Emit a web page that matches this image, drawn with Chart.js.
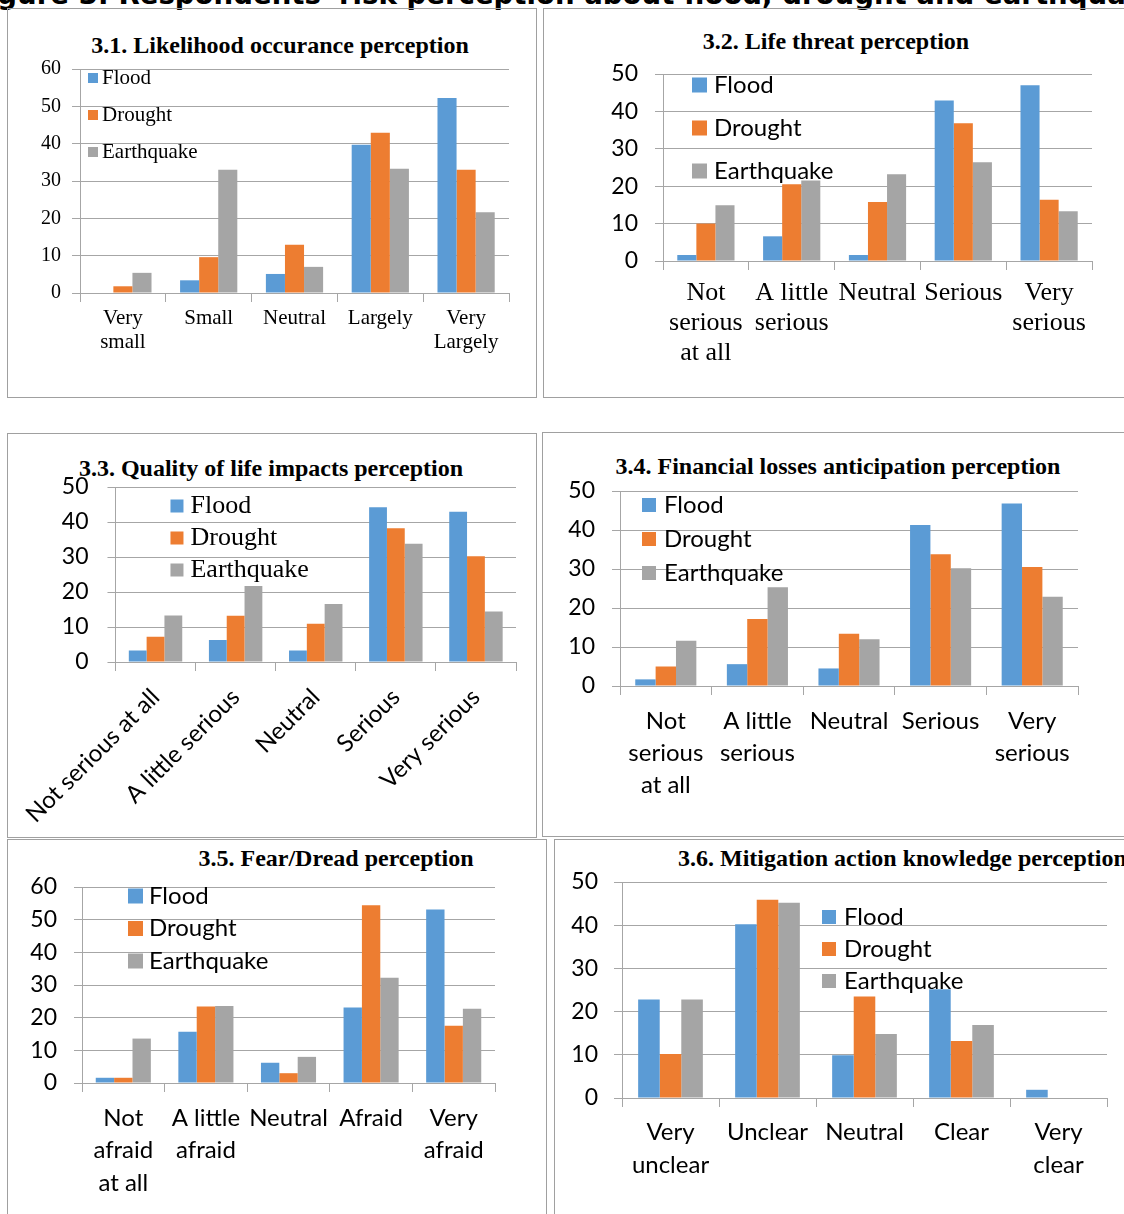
<!DOCTYPE html>
<html>
<head>
<meta charset="utf-8">
<title>Figure 3</title>
<script src="https://cdn.jsdelivr.net/npm/chart.js@4.4.1/dist/chart.umd.min.js"></script>
<style>
  html, body { margin: 0; padding: 0; background: #fff; }
  #page { position: relative; width: 1124px; height: 1214px; overflow: hidden; }
  .frame { position: absolute; border: 1px solid #a0a0a0; box-sizing: border-box; }
  .title { position: absolute; white-space: nowrap; font: bold 24px "Liberation Serif", serif; line-height: 24px; color: #000; }
  #fig { position: absolute; left: -31px; top: -20px; white-space: nowrap; font: bold 27.6px "DejaVu Sans", sans-serif; line-height: 30px; color: #000; }
  canvas { position: absolute; }
</style>
</head>
<body>
<div id="page">
  <div id="fig">Figure 3: Respondents' risk perception about flood, drought and earthquake</div>
</div>
<script>
const series = ["Flood", "Drought", "Earthquake"];

// 3.1
const likelihoodCats = [["Very", "small"], "Small", "Neutral", "Largely", ["Very", "Largely"]];
const likelihoodFlood = [0, 3.4, 5.1, 39.7, 52.2];
const likelihoodDrought = [1.8, 9.6, 12.9, 42.9, 33.0];
const likelihoodQuake = [5.4, 33.0, 7.0, 33.3, 21.6];

// 3.2
const lifeCats = [["Not", "serious", "at all"], ["A little", "serious"], "Neutral", "Serious", ["Very", "serious"]];
const lifeFlood = [1.6, 6.6, 1.6, 42.9, 47.0];
const lifeDrought = [10.0, 20.5, 15.8, 36.8, 16.4];
const lifeQuake = [14.9, 21.5, 23.2, 26.4, 13.3];

// 3.3
const qolCats = ["Not serious at all", "A little serious", "Neutral", "Serious", "Very serious"];
const qolFlood = [3.3, 6.3, 3.3, 44.2, 42.9];
const qolDrought = [7.2, 13.2, 10.9, 38.2, 30.2];
const qolQuake = [13.3, 21.7, 16.6, 33.8, 14.4];

// 3.4
const finCats = [["Not", "serious", "at all"], ["A little", "serious"], "Neutral", "Serious", ["Very", "serious"]];
const finFlood = [1.7, 5.6, 4.5, 41.3, 46.8];
const finDrought = [5.0, 17.2, 13.4, 33.8, 30.5];
const finQuake = [11.6, 25.3, 12.0, 30.2, 22.9];

// 3.5
const fearCats = [["Not", "afraid", "at all"], ["A little", "afraid"], "Neutral", "Afraid", ["Very", "afraid"]];
const fearFlood = [1.6, 15.7, 6.2, 23.1, 53.1];
const fearDrought = [1.6, 23.4, 3.0, 54.4, 17.5];
const fearQuake = [13.6, 23.6, 8.0, 32.2, 22.7];

// 3.6
const mitCats = [["Very", "unclear"], "Unclear", "Neutral", "Clear", ["Very", "clear"]];
const mitFlood = [22.8, 40.2, 9.9, 25.2, 1.9];
const mitDrought = [10.2, 45.9, 23.5, 13.2, 0];
const mitQuake = [22.8, 45.2, 14.8, 16.9, 0];

const colors = ["#5B9BD5", "#ED7D31", "#A5A5A5"];
const gridColor = "#a6a6a6";
const serif = "'Liberation Serif', 'Times New Roman', serif";
const sans = "Lato, 'Open Sans', sans-serif";

Chart.defaults.color = "#000";

// legend drawn inside the plot area, like the Excel original
const insideLegend = {
  id: "insideLegend",
  afterDraw(chart, args, opts) {
    const { ctx, chartArea } = chart;
    ctx.save();
    ctx.font = opts.font;
    ctx.textBaseline = "middle";
    chart.data.datasets.forEach((ds, i) => {
      const x = chartArea.left + opts.x;
      const y = chartArea.top + opts.y + i * opts.gap;
      ctx.fillStyle = ds.backgroundColor;
      ctx.fillRect(x, y - opts.box / 2, opts.box, opts.box);
      ctx.fillStyle = "#000";
      ctx.fillText(ds.label, x + opts.textX, y);
    });
    ctx.restore();
  }
};

const page = document.getElementById("page");

function addFrame(l, t, r, b) {
  const d = document.createElement("div");
  d.className = "frame";
  d.style.left = l + "px";
  d.style.top = t + "px";
  d.style.width = (r - l) + "px";
  d.style.height = (b - t) + "px";
  page.appendChild(d);
}

function addTitle(text, x, cy, centered) {
  const d = document.createElement("div");
  d.className = "title";
  d.textContent = text;
  d.style.left = x + "px";
  d.style.top = (cy - 12) + "px";
  if (centered) d.style.transform = "translateX(-50%)";
  page.appendChild(d);
}

function makeChart(p) {
  // room above the plot so the top tick label never pushes the plot down
  const padT = 40, padR = p.padR || 20;
  const canvas = document.createElement("canvas");
  const w = p.plot.r - p.plot.l + p.yW + padR;
  const h = p.plot.b - p.plot.t + padT + p.xH;
  canvas.width = w;
  canvas.height = h;
  canvas.style.left = (p.plot.l - p.yW) + "px";
  canvas.style.top = (p.plot.t - padT) + "px";
  canvas.style.width = w + "px";
  canvas.style.height = h + "px";
  page.appendChild(canvas);

  return new Chart(canvas, {
    type: "bar",
    data: {
      labels: p.labels,
      datasets: p.values.map((vals, i) => ({
        label: series[i],
        data: vals,
        backgroundColor: colors[i],
        borderWidth: 0,
        categoryPercentage: 0.667,
        barPercentage: 1.0
      }))
    },
    options: {
      responsive: false,
      animation: false,
      layout: { padding: { top: padT, right: padR, left: 0, bottom: 0 } },
      scales: {
        x: {
          grid: { drawOnChartArea: false, color: gridColor, tickLength: 9, offset: true },
          border: { color: gridColor },
          ticks: {
            autoSkip: false,
            minRotation: p.rot || 0,
            maxRotation: p.rot || 0,
            padding: p.xPad,
            font: p.xFont
          },
          afterFit: (s) => { s.height = p.xH; }
        },
        y: {
          min: 0,
          max: p.max,
          grid: { color: gridColor, tickLength: 8 },
          border: { color: gridColor },
          ticks: { stepSize: 10, padding: p.yPad, font: p.yFont },
          afterFit: (s) => { s.width = p.yW; }
        }
      },
      plugins: {
        legend: { display: false },
        tooltip: { enabled: false },
        insideLegend: p.legend
      }
    },
    plugins: [insideLegend]
  });
}

// frames
addFrame(7, 8, 537, 398);
addFrame(543, 8, 1130, 398);
addFrame(7, 433, 537, 838);
addFrame(542, 432, 1130, 837);
addFrame(7, 839, 547, 1230);
addFrame(554, 839, 1130, 1230);

// titles
addTitle("3.1. Likelihood occurance perception", 280, 45, true);
addTitle("3.2. Life threat perception", 836, 41, true);
addTitle("3.3. Quality of life impacts perception", 271, 468, true);
addTitle("3.4. Financial losses anticipation perception", 838, 466, true);
addTitle("3.5. Fear/Dread perception", 336, 858, true);
addTitle("3.6. Mitigation action knowledge perception", 678, 858, false);

makeChart({
  plot: { l: 80, t: 69, r: 509, b: 293 }, yW: 70, xH: 90, max: 60,
  labels: likelihoodCats, values: [likelihoodFlood, likelihoodDrought, likelihoodQuake],
  xPad: 4, xFont: { family: serif, size: 21, lineHeight: 24 / 21 },
  yPad: 11, yFont: { family: serif, size: 20 },
  legend: { x: 8, y: 9, gap: 37, box: 10, textX: 14, font: "21px " + serif }
});

makeChart({
  plot: { l: 663, t: 74, r: 1092, b: 261 }, yW: 70, xH: 120, max: 50,
  labels: lifeCats, values: [lifeFlood, lifeDrought, lifeQuake],
  xPad: 8, xFont: { family: serif, size: 26, lineHeight: 30 / 26 },
  yPad: 17, yFont: { family: sans, size: 23 },
  legend: { x: 29, y: 11, gap: 43, box: 15, textX: 22, font: "24px " + sans }
});

makeChart({
  plot: { l: 112, t: 487, r: 516, b: 662 }, yW: 104, xH: 170, max: 50, rot: 45,
  labels: qolCats, values: [qolFlood, qolDrought, qolQuake],
  xPad: 12, xFont: { family: sans, size: 24 },
  yPad: 19, yFont: { family: sans, size: 23 },
  legend: { x: 55, y: 19, gap: 32, box: 13, textX: 20, font: "26px " + serif }
});

makeChart({
  plot: { l: 620, t: 491, r: 1078, b: 686 }, yW: 70, xH: 120, max: 50,
  labels: finCats, values: [finFlood, finDrought, finQuake],
  xPad: 10, xFont: { family: sans, size: 24, lineHeight: 32 / 24 },
  yPad: 17, yFont: { family: sans, size: 23 },
  legend: { x: 22, y: 14, gap: 34, box: 14, textX: 22, font: "24px " + sans }
});

makeChart({
  plot: { l: 82, t: 887, r: 495, b: 1083 }, yW: 70, xH: 120, max: 60,
  labels: fearCats, values: [fearFlood, fearDrought, fearQuake],
  xPad: 10, xFont: { family: sans, size: 24, lineHeight: 32.5 / 24 },
  yPad: 17, yFont: { family: sans, size: 23 },
  legend: { x: 46, y: 9, gap: 32.5, box: 15, textX: 21, font: "24px " + sans }
});

makeChart({
  plot: { l: 622, t: 882, r: 1107, b: 1098 }, yW: 60, xH: 100, max: 50, padR: 17,
  labels: mitCats, values: [mitFlood, mitDrought, mitQuake],
  xPad: 9, xFont: { family: sans, size: 24, lineHeight: 33 / 24 },
  yPad: 16, yFont: { family: sans, size: 23 },
  legend: { x: 200, y: 35, gap: 32, box: 14, textX: 22, font: "24px " + sans }
});
</script>
</body>
</html>
